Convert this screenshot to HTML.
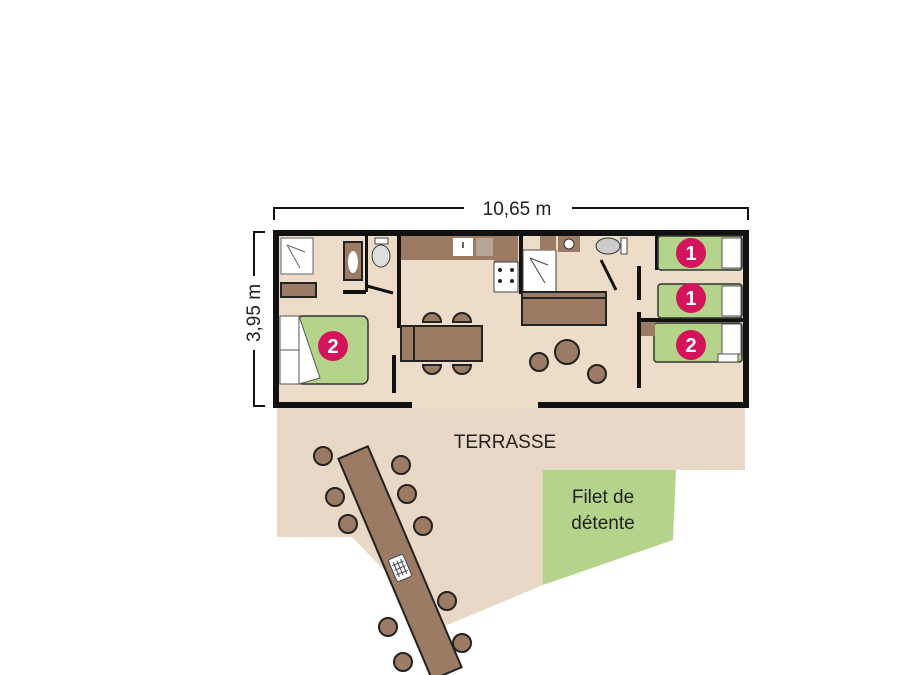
<!DOCTYPE html>
<html><head><meta charset="utf-8"><style>
html,body{margin:0;padding:0;background:#fff;}
svg{display:block;}
text{font-family:"Liberation Sans","DejaVu Sans",sans-serif;}
</style></head><body>
<svg width="900" height="675" viewBox="0 0 900 675" xmlns="http://www.w3.org/2000/svg">
<!-- terrace -->
<polygon points="277,405 745,405 745,470 543,470 543,585 440,628 352,537 277,537" fill="#e8d8c5"/>
<polygon points="543,470 676,470 673,540 543,585" fill="#b4d48c"/>
<!-- house floor -->
<rect x="273" y="230" width="476" height="178" fill="#ecdcc8"/>
<!-- dimensions -->
<g stroke="#111" stroke-width="2" fill="none">
<line x1="274" y1="208" x2="464" y2="208"/><line x1="572" y1="208" x2="748" y2="208"/>
<line x1="274" y1="207" x2="274" y2="220"/><line x1="748" y1="207" x2="748" y2="220"/>
<line x1="254" y1="232" x2="254" y2="276"/><line x1="254" y1="350" x2="254" y2="406"/>
<line x1="253" y1="232" x2="265" y2="232"/><line x1="253" y1="406" x2="265" y2="406"/>
</g>
<text x="517" y="215" font-size="19" text-anchor="middle" fill="#222">10,65 m</text>
<text x="0" y="0" font-size="19" text-anchor="middle" fill="#222" transform="translate(260,313) rotate(-90)">3,95 m</text>
<!-- outer walls -->
<g fill="#111">
<rect x="273" y="230" width="476" height="6"/>
<rect x="273" y="230" width="6" height="178"/>
<rect x="743" y="230" width="6" height="178"/>
<rect x="273" y="402" width="139" height="6"/>
<rect x="538" y="402" width="211" height="6"/>
<rect x="397" y="236" width="4" height="92"/>
<rect x="392" y="355" width="4" height="38"/>
<rect x="365" y="236" width="3" height="56"/>
<rect x="343" y="290" width="23" height="4"/>
<rect x="519" y="236" width="4" height="58"/>
<rect x="637" y="266" width="4" height="34"/>
<rect x="637" y="312" width="4" height="76"/>
<rect x="637" y="318" width="106" height="4"/>
<rect x="655" y="236" width="3" height="34"/>
</g>
<line x1="367" y1="286" x2="393" y2="293" stroke="#111" stroke-width="3"/>
<line x1="601" y1="260" x2="616" y2="290" stroke="#111" stroke-width="3"/>
<!-- left bath -->
<rect x="281" y="238" width="32" height="36" fill="#fff" stroke="#666" stroke-width="1"/>
<line x1="287" y1="245" x2="300" y2="268" stroke="#666"/><line x1="287" y1="245" x2="305" y2="252" stroke="#666"/>
<rect x="281" y="283" width="35" height="14" fill="#9b7b64" stroke="#222" stroke-width="2"/>
<rect x="344" y="242" width="18" height="38" fill="#9b7b64" stroke="#222" stroke-width="2"/>
<ellipse cx="353" cy="262" rx="5" ry="11" fill="#fff"/>
<ellipse cx="381" cy="256" rx="9" ry="11" fill="#ddd" stroke="#444"/>
<rect x="375" y="238" width="13" height="6" fill="#fff" stroke="#444"/>
<!-- left bed -->
<rect x="297" y="316" width="71" height="68" rx="6" fill="#b4d48c" stroke="#333" stroke-width="1.5"/>
<rect x="280" y="316" width="20" height="34" fill="#fff" stroke="#555"/>
<rect x="280" y="350" width="20" height="34" fill="#fff" stroke="#555"/>
<polygon points="299,316 320,378 299,384" fill="#fff" stroke="#555"/>
<!-- kitchen -->
<rect x="401" y="236" width="117" height="24" fill="#9b7b64"/>
<rect x="494" y="236" width="24" height="56" fill="#9b7b64"/>
<rect x="494" y="262" width="24" height="30" fill="#fff" stroke="#444"/>
<g fill="#222"><circle cx="500" cy="270" r="2"/><circle cx="512" cy="270" r="2"/><circle cx="500" cy="281" r="2"/><circle cx="512" cy="281" r="2"/></g>
<rect x="453" y="238" width="20" height="18" fill="#fff"/>
<rect x="476" y="238" width="17" height="18" fill="#b8a397"/>
<line x1="463" y1="242" x2="463" y2="248" stroke="#333" stroke-width="1.5"/>
<!-- dining -->
<rect x="401" y="326" width="14" height="35" fill="#9b7b64" stroke="#222" stroke-width="2"/>
<rect x="414" y="326" width="68" height="35" fill="#9b7b64" stroke="#222" stroke-width="2"/>
<g fill="#9b7b64" stroke="#222" stroke-width="2">
<path d="M423,322 a9,9 0 0 1 18,0 z"/><path d="M453,322 a9,9 0 0 1 18,0 z"/>
<path d="M423,365 a9,9 0 0 0 18,0 z"/><path d="M453,365 a9,9 0 0 0 18,0 z"/>
</g>
<!-- right bath/kitchen -->
<rect x="523" y="250" width="33" height="43" fill="#fff" stroke="#444"/>
<line x1="530" y1="258" x2="545" y2="283" stroke="#444"/><line x1="530" y1="258" x2="548" y2="265" stroke="#444"/>
<rect x="540" y="236" width="16" height="14" fill="#9b7b64"/>
<rect x="558" y="236" width="22" height="16" fill="#9b7b64"/>
<circle cx="569" cy="244" r="5" fill="#fff" stroke="#333"/>
<ellipse cx="608" cy="246" rx="12" ry="8" fill="#ccc" stroke="#333"/>
<rect x="621" y="238" width="6" height="16" fill="#fff" stroke="#444"/>
<rect x="522" y="292" width="84" height="33" fill="#9b7b64" stroke="#222" stroke-width="2"/>
<line x1="522" y1="298" x2="606" y2="298" stroke="#222" stroke-width="2"/>
<g fill="#9b7b64" stroke="#222" stroke-width="2">
<circle cx="567" cy="352" r="12"/><circle cx="539" cy="362" r="9"/><circle cx="597" cy="374" r="9"/>
</g>
<!-- right beds -->
<g stroke="#333" stroke-width="1.5">
<rect x="658" y="236" width="84" height="34" rx="3" fill="#b4d48c"/>
<rect x="658" y="284" width="84" height="34" rx="3" fill="#b4d48c"/>
<rect x="654" y="323" width="88" height="39" rx="3" fill="#b4d48c"/>
<rect x="641" y="322" width="14" height="14" fill="#9b7b64" stroke="none"/>
</g>
<g fill="#fff" stroke="#555">
<rect x="722" y="238" width="19" height="30"/><rect x="722" y="286" width="19" height="30"/><rect x="722" y="324" width="19" height="30"/>
<rect x="718" y="354" width="20" height="8"/>
</g>
<!-- badges -->
<g fill="#d4145a">
<circle cx="333" cy="346" r="15"/><circle cx="691" cy="253" r="15"/><circle cx="691" cy="298" r="15"/><circle cx="691" cy="345" r="15"/>
</g>
<g fill="#fff" font-size="20" font-weight="bold" text-anchor="middle">
<text x="333" y="353">2</text><text x="691" y="260">1</text><text x="691" y="305">1</text><text x="691" y="352">2</text>
</g>
<!-- terrace labels -->
<text x="505" y="448" font-size="19" text-anchor="middle" fill="#222">TERRASSE</text>
<text x="603" y="503" font-size="19" text-anchor="middle" fill="#222">Filet de</text>
<text x="603" y="529" font-size="19" text-anchor="middle" fill="#222">détente</text>
<!-- chairs outside -->
<g fill="#9b7b64" stroke="#222" stroke-width="2">
<circle cx="323" cy="456" r="9"/><circle cx="401" cy="465" r="9"/><circle cx="335" cy="497" r="9"/><circle cx="407" cy="494" r="9"/>
<circle cx="348" cy="524" r="9"/><circle cx="423" cy="526" r="9"/><circle cx="447" cy="601" r="9"/><circle cx="388" cy="627" r="9"/>
<circle cx="462" cy="643" r="9"/><circle cx="403" cy="662" r="9"/>
</g>
<rect x="384" y="443" width="32" height="240" fill="#9b7b64" stroke="#222" stroke-width="2" transform="rotate(-23 400 563)"/>
<rect x="392" y="556" width="16" height="24" rx="2" fill="#fff" stroke="#444" transform="rotate(-23 400 568)"/>
<g stroke="#445" stroke-width="1" transform="rotate(-23 400 568)">
<line x1="396" y1="560" x2="396" y2="576"/><line x1="400" y1="560" x2="400" y2="576"/><line x1="404" y1="560" x2="404" y2="576"/>
<line x1="394" y1="563" x2="406" y2="563"/><line x1="394" y1="568" x2="406" y2="568"/><line x1="394" y1="573" x2="406" y2="573"/>
</g>
</svg>
</body></html>
